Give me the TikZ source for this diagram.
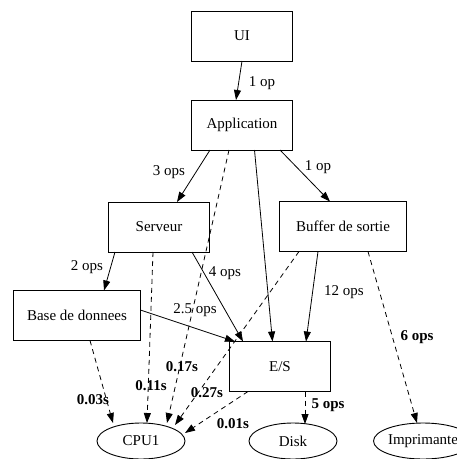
\documentclass[tikz,border=0pt]{standalone}
\usepackage{fontspec}
\setmainfont{Liberation Serif}
\usetikzlibrary{arrows.meta,shapes.geometric}
\tikzset{
  gbox/.style={draw, line width=0.9pt, rectangle, minimum width=101pt, minimum height=50pt, inner sep=0pt, outer sep=0pt, font=\fontsize{15}{18}\selectfont},
  wbox/.style={gbox, minimum width=127pt},
  gell/.style={draw, line width=0.9pt, ellipse, minimum width=88pt, minimum height=36pt, inner sep=0pt, outer sep=0pt, font=\fontsize{15}{18}\selectfont},
  edge/.style={line width=0.8pt, -{Triangle[length=10pt,width=7pt]}},
  dedge/.style={edge, dash pattern=on 5pt off 4pt},
  lbl/.style={inner sep=0pt, font=\fontsize{15}{18}\selectfont},
  blbl/.style={inner sep=0pt, font=\fontsize{15}{18}\selectfont\bfseries},
}
\begin{document}
\begin{tikzpicture}[x=1pt,y=-1pt]
\fill[white] (0,0) rectangle (457,459);
\useasboundingbox (0,0) rectangle (457,459);
\clip (0,0) rectangle (457,459);
% nodes
\node[gbox] (ui) at (242,36) {UI};
\node[gbox] (app) at (242,125) {Application};
\node[gbox] (serveur) at (159,227) {Serveur};
\node[wbox] (buffer) at (343,226.5) {Buffer de sortie};
\node[wbox] (base) at (77,315.5) {Base de donnees};
\node[gbox] (es) at (280,366.5) {E/S};
\node[gell] (cpu) at (141,441) {CPU1};
\node[gell] (disk) at (293,441) {Disk};
\node[gell, minimum width=98pt] (imp) at (423,441) {Imprimante};
% edges
\draw[edge] (ui.south) -- ([xshift=-6pt]app.north);
\draw[edge] ([xshift=-32pt]app.south) -- ([xshift=18pt]serveur.north);
\draw[dedge] ([xshift=-13pt]app.south) -- ([xshift=26pt,yshift=18pt]cpu.center);
\draw[edge] ([xshift=12.5pt]app.south) -- ([xshift=-7.5pt]es.north);
\draw[edge] ([xshift=38pt]app.south) -- ([xshift=-13pt]buffer.north);
\draw[edge] ([xshift=-44pt]serveur.south) -- ([xshift=27pt]base.north);
\draw[dedge] ([xshift=-6pt]serveur.south) -- ([xshift=6pt,yshift=18pt]cpu.center);
\draw[edge] ([xshift=33pt]serveur.south) -- ([xshift=-37pt]es.north);
\draw[edge] ([yshift=5.5pt]base.east) -- ([xshift=-45pt]es.north);
\draw[dedge] ([xshift=13pt]base.south) -- ([xshift=-28pt,yshift=18pt]cpu.center);
\draw[edge] ([xshift=-25pt]buffer.south) -- ([xshift=26pt]es.north);
\draw[dedge] ([xshift=-44pt]buffer.south) -- ([xshift=34pt,yshift=16pt]cpu.center);
\draw[dedge] ([xshift=25pt]buffer.south) -- ([xshift=-6pt,yshift=18pt]imp.center);
\draw[dedge] ([xshift=-32pt]es.south) -- ([xshift=44pt,yshift=8pt]cpu.center);
\draw[dedge] ([xshift=25pt]es.south) -- ([xshift=12pt,yshift=17pt]disk.center);
% labels
\node[lbl] (l1) at (262,83) {1 op};
\node[lbl] (l2) at (169,172) {3 ops};
\node[lbl] (l3) at (318,167) {1 op};
\node[lbl] (l4) at (87,267) {2 ops};
\node[lbl] (l5) at (225,273) {4 ops};
\node[lbl] (l6) at (195,310) {2.5 ops};
\node[lbl] (l7) at (344,292) {12 ops};
\node[blbl] (l8) at (182,367) {0.17s};
\node[blbl] (l9) at (151,386) {0.11s};
\node[blbl] (l10) at (93,400) {0.03s};
\node[blbl] (l11) at (207,393) {0.27s};
\node[blbl] (l12) at (233,424) {0.01s};
\node[blbl] (l13) at (328,405) {5 ops};
\node[blbl] (l14) at (417,337) {6 ops};
\end{tikzpicture}
\end{document}
